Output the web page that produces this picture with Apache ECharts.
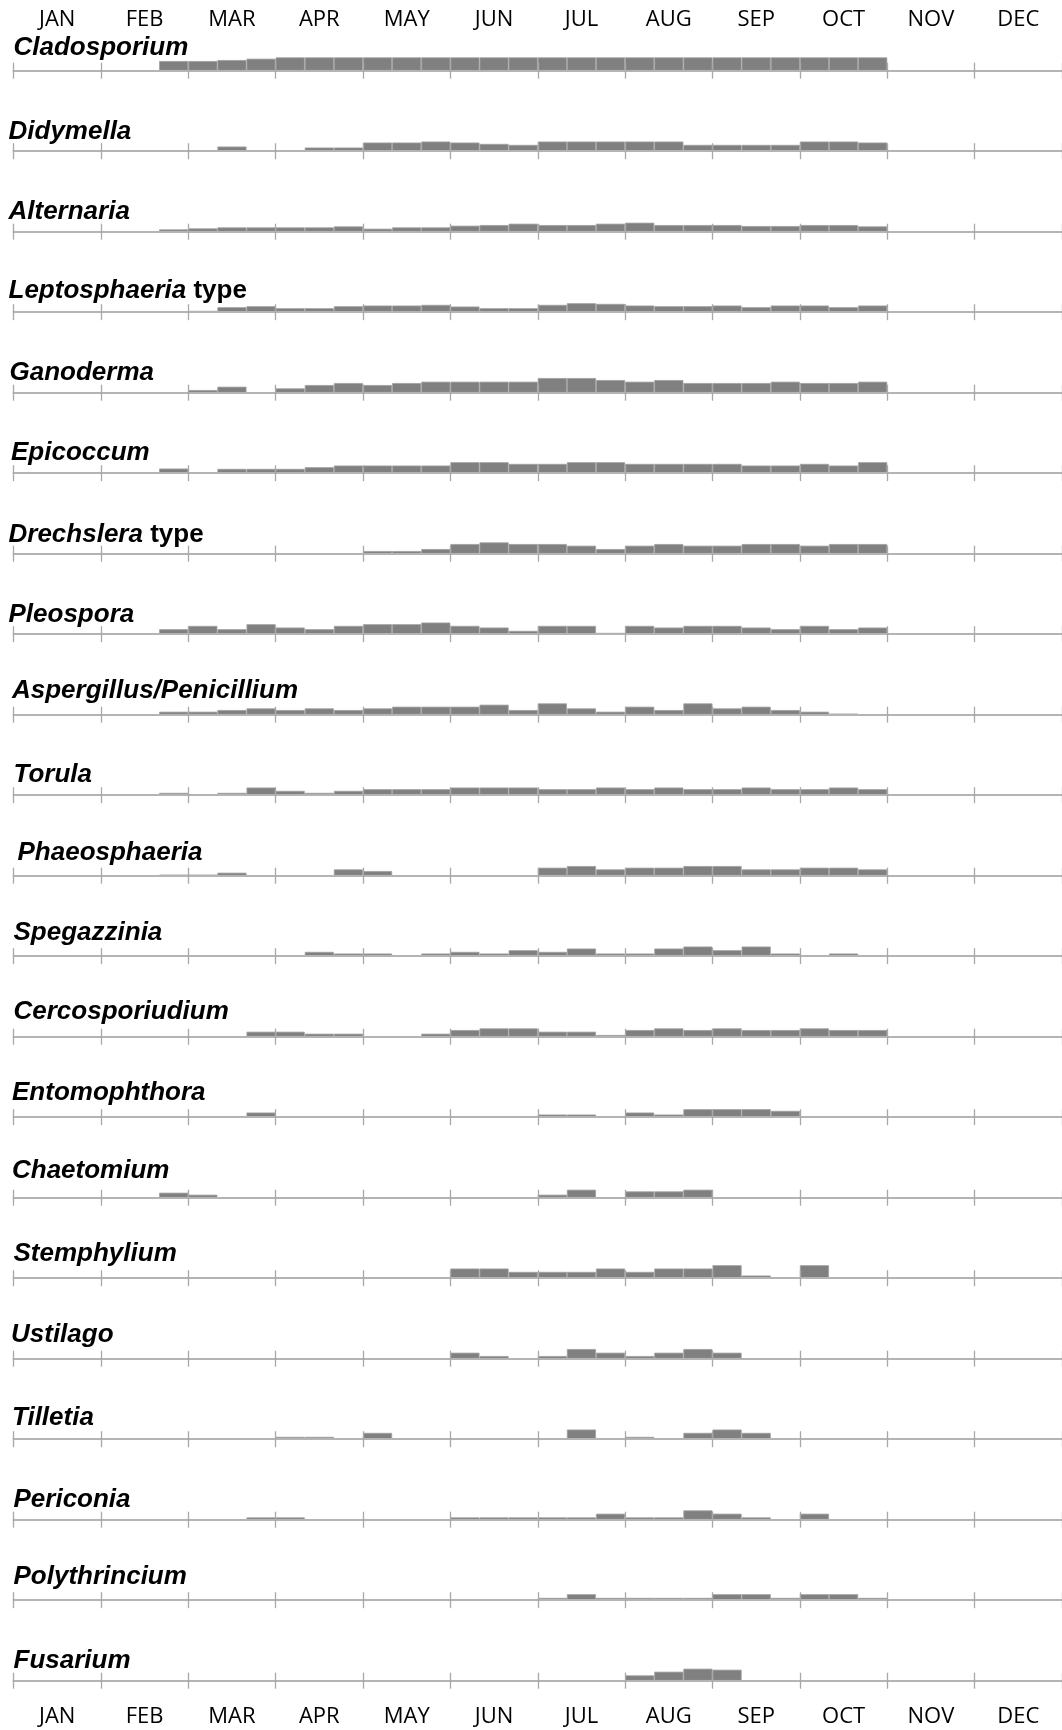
<!DOCTYPE html>
<html>
<head>
<meta charset="utf-8">
<title>Fungal spore calendar</title>
<script src="https://cdn.jsdelivr.net/npm/echarts@6/dist/echarts.min.js"></script>
<style>
  html, body { margin: 0; padding: 0; background: #fff; }
  #calendar { width: 1062px; height: 1730px; }
</style>
</head>
<body>
<div id="calendar"></div>
<script>
  var months = ['JAN', 'FEB', 'MAR', 'APR', 'MAY', 'JUN', 'JUL', 'AUG', 'SEP', 'OCT', 'NOV', 'DEC'];

  // 36 ten-day periods, three per month
  var bins = [];
  for (var m = 0; m < 12; m++) {
    for (var d = 1; d <= 3; d++) bins.push(months[m] + ' ' + d);
  }
  // the values below start at the 3rd ten-day period of FEB and end with OCT 3
  var firstBin = 5;

  var taxa = ['Cladosporium', 'Didymella', 'Alternaria', 'Leptosphaeria type', 'Ganoderma', 'Epicoccum',
    'Drechslera type', 'Pleospora', 'Aspergillus/Penicillium', 'Torula', 'Phaeosphaeria', 'Spegazzinia',
    'Cercosporiudium', 'Entomophthora', 'Chaetomium', 'Stemphylium', 'Ustilago', 'Tilletia', 'Periconia',
    'Polythrincium', 'Fusarium'];

  //                 F3 M1 M2 M3 A1 A2 A3 M1 M2 M3 J1 J2 J3 J1 J2 J3 A1 A2 A3 S1 S2 S3 O1 O2 O3
  var cladosporium  = [29,29,32,36,40,40,40,40,40,40,40,40,40,40,40,40,40,40,40,40,40,40,40,40,40];
  var didymella     = [0, 0, 14,0, 0, 11,11,26,26,29,26,22,19,29,29,29,29,29,19,19,19,19,29,29,26];
  var alternaria    = [7, 10,13,13,13,13,16,9, 13,13,18,20,24,20,20,24,27,20,20,20,17,17,20,20,16];
  var leptosphaeria = [0, 4, 15,18,12,12,18,20,20,22,17,12,12,22,27,25,20,18,18,20,15,20,20,15,20];
  var ganoderma     = [0, 8, 18,0, 13,23,29,23,29,33,33,33,33,44,44,38,33,38,29,29,29,33,29,29,33];
  var epicoccum     = [14,0, 13,13,13,18,23,23,23,23,33,33,28,28,33,33,28,28,28,28,23,23,28,23,33];
  var drechslera    = [0, 0, 0, 0, 0, 0, 0, 8, 8, 14,29,34,29,29,24,14,24,29,24,24,29,29,24,29,29];
  var pleospora     = [15,25,15,30,20,15,25,30,30,35,25,20,10,25,25,4, 25,20,25,25,20,15,25,15,20];
  var aspergillus   = [9, 9, 14,19,14,19,14,19,24,24,24,30,14,34,19,9, 24,14,34,19,24,14,9, 3, 0];
  var torula        = [7, 0, 7, 23,13,7, 13,18,18,18,23,23,23,18,18,23,18,23,18,18,23,18,18,23,18];
  var phaeosphaeria = [3, 3, 9, 0, 0, 0, 19,14,0, 0, 0, 0, 0, 24,29,19,24,24,29,29,19,19,24,24,19];
  var spegazzinia   = [0, 0, 0, 0, 0, 13,8, 8, 3, 8, 13,8, 18,13,23,8, 8, 23,29,18,29,8, 3, 8, 0];
  var cercosporiudium = [0,0, 0, 15,15,9, 9, 0, 0, 9, 20,25,25,15,15,5, 20,25,20,25,20,20,25,20,20];
  var entomophthora = [0, 0, 0, 14,0, 0, 0, 0, 0, 0, 0, 0, 0, 8, 8, 0, 14,8, 24,24,24,19,0, 0, 0];
  var chaetomium    = [15,9, 0, 0, 0, 0, 0, 0, 0, 0, 0, 0, 0, 9, 24,0, 19,19,24,0, 0, 0, 0, 0, 0];
  var stemphylium   = [0, 0, 0, 0, 0, 0, 0, 0, 0, 0, 29,29,19,19,19,29,19,29,29,39,8, 0, 39,0, 0];
  var ustilago      = [0, 0, 0, 0, 0, 0, 0, 0, 0, 0, 18,8, 0, 8, 29,18,8, 18,29,18,0, 0, 0, 0, 0];
  var tilletia      = [0, 0, 0, 0, 7, 7, 0, 19,0, 0, 0, 0, 0, 0, 29,0, 7, 0, 19,29,19,0, 0, 0, 0];
  var periconia     = [0, 0, 0, 7, 7, 0, 0, 0, 0, 0, 7, 7, 7, 7, 7, 18,7, 7, 28,18,7, 0, 18,0, 0];
  var polythrincium = [0, 0, 0, 0, 0, 0, 0, 0, 0, 0, 0, 0, 0, 7, 18,7, 7, 7, 7, 18,18,7, 18,18,7];
  var fusarium      = [0, 0, 0, 0, 0, 0, 0, 0, 0, 0, 0, 0, 0, 0, 0, 0, 16,27,36,33,0, 0, 0, 0, 0];

  var counts = [cladosporium, didymella, alternaria, leptosphaeria, ganoderma, epicoccum, drechslera,
    pleospora, aspergillus, torula, phaeosphaeria, spegazzinia, cercosporiudium, entomophthora,
    chaetomium, stemphylium, ustilago, tilletia, periconia, polythrincium, fusarium];

  // layout
  var left = 13.5, plotWidth = 1054;
  var rowTop = 70.7, rowStep = 80.5, barRoom = 16;
  var labelDx = [0, -5, -5, -5, -4, -2.5, -5, -5, -1.5, 0, 4, 0, 0, -1.5, -1.5, 0, -2.5, -1.5, 0, 0, 0];
  var labelDy = [0, 4, 3, 2, 3, 3, 4, 4, -1, 3, 0, 0, -2, -1, -4, -1, -1, 2, 3, 0, 3];

  function pad(values) {
    var out = [];
    for (var i = 0; i < bins.length; i++) {
      var v = values[i - firstBin];
      out.push(v ? v : '-');
    }
    return out;
  }

  function isMonthStart(index) {
    return index % 3 === 0;
  }

  function labelText(name) {
    // "type" is not part of the genus name, so it is set upright
    return name.replace(' type', ' {n|type}');
  }

  var tickStyle = { color: '#a8a8a8', width: 1.3 };
  var grid = [], xAxis = [], yAxis = [], series = [], graphic = [];

  taxa.forEach(function (name, i) {
    var base = rowTop + rowStep * i;
    grid.push({ left: left, width: plotWidth, top: base - barRoom, height: barRoom });
    // one axis carries the line and the upward ticks, its twin the downward ticks
    xAxis.push({
      type: 'category', gridIndex: i, data: bins, position: 'bottom', z: 3,
      axisLine: { show: true, lineStyle: { color: '#b4b4b4', width: 2 } },
      axisTick: { show: true, inside: true, length: 8, interval: isMonthStart, lineStyle: tickStyle },
      axisLabel: { show: false }, splitLine: { show: false }
    });
    xAxis.push({
      type: 'category', gridIndex: i, data: bins, position: 'bottom', z: 3,
      axisLine: { show: false },
      axisTick: { show: true, inside: false, length: 8, interval: isMonthStart, lineStyle: tickStyle },
      axisLabel: { show: false }, splitLine: { show: false }
    });
    yAxis.push({ type: 'value', gridIndex: i, min: 0, max: barRoom * 3, show: false });
    series.push({
      name: name, type: 'bar', xAxisIndex: 2 * i, yAxisIndex: i,
      barCategoryGap: '0%', data: pad(counts[i]),
      itemStyle: { color: '#808080', borderColor: '#a0a0a0', borderWidth: 0.8 }
    });
    graphic.push({
      type: 'text', x: left + labelDx[i], y: base - 10 + labelDy[i],
      style: {
        text: labelText(name), fill: '#000',
        fontFamily: 'Liberation Sans', fontSize: 26, fontWeight: 'bold', fontStyle: 'italic',
        verticalAlign: 'bottom',
        rich: { n: { fontFamily: 'Liberation Sans', fontSize: 26, fontWeight: 'bold', fontStyle: 'normal' } }
      }
    });
  });

  // month names above the first row and below the last
  [{ top: 40, position: 'top', margin: 20 }, { top: 1690, position: 'bottom', margin: 26 }].forEach(function (h) {
    var g = grid.length;
    grid.push({ left: left, width: plotWidth, top: h.top, height: 1 });
    xAxis.push({
      type: 'category', gridIndex: g, data: months, position: h.position,
      axisLine: { show: false }, axisTick: { show: false },
      axisLabel: { interval: 0, margin: h.margin, verticalAlign: 'middle', color: '#000',
        fontFamily: 'Open Sans', fontSize: 22 }
    });
    yAxis.push({ type: 'value', gridIndex: g, show: false });
  });

  var chart = echarts.init(document.getElementById('calendar'));
  chart.setOption({
    animation: false,
    backgroundColor: '#fff',
    grid: grid,
    xAxis: xAxis,
    yAxis: yAxis,
    series: series,
    graphic: graphic
  });
</script>
</body>
</html>
